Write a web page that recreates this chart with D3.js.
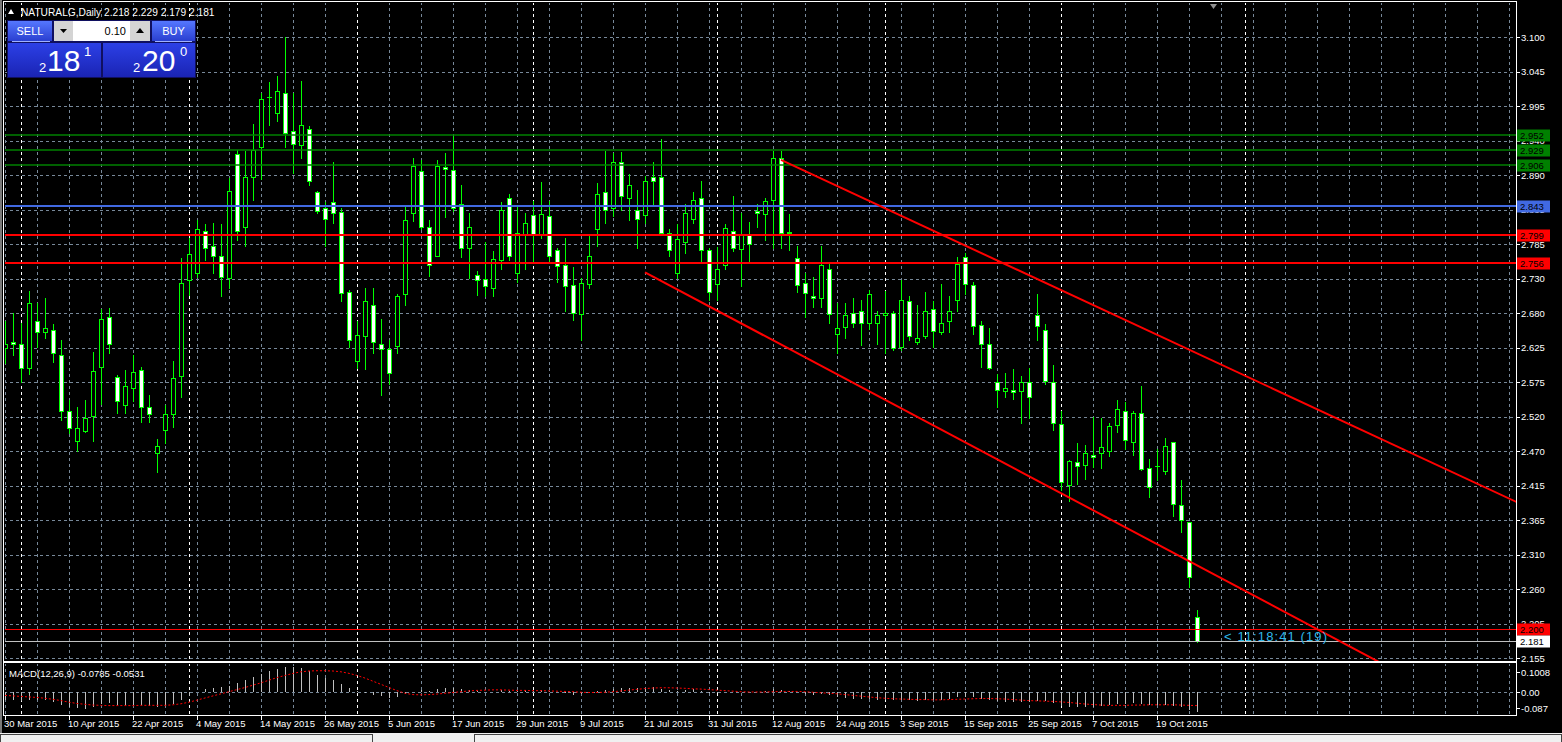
<!DOCTYPE html>
<html><head><meta charset="utf-8">
<script src="https://cdn.jsdelivr.net/npm/d3@7"></script>
<style>
html,body{margin:0;padding:0;background:#000;overflow:hidden;}
svg{display:block;}
text{font-family:"Liberation Sans",Arial,sans-serif;}
</style></head><body>
<svg id="c" width="1562" height="742"></svg>
<script>
// ---------------- DATA ----------------
const symbol = "NATURALG,Daily";
const dates = ["30 Mar 2015","31 Mar 2015","1 Apr 2015","2 Apr 2015","6 Apr 2015","7 Apr 2015","8 Apr 2015","9 Apr 2015","10 Apr 2015","13 Apr 2015",
"14 Apr 2015","15 Apr 2015","16 Apr 2015","17 Apr 2015","20 Apr 2015","21 Apr 2015","22 Apr 2015","23 Apr 2015","24 Apr 2015","27 Apr 2015",
"28 Apr 2015","29 Apr 2015","30 Apr 2015","1 May 2015","4 May 2015","5 May 2015","6 May 2015","7 May 2015","8 May 2015","11 May 2015",
"12 May 2015","13 May 2015","14 May 2015","15 May 2015","18 May 2015","19 May 2015","20 May 2015","21 May 2015","22 May 2015","25 May 2015",
"26 May 2015","27 May 2015","28 May 2015","29 May 2015","1 Jun 2015","2 Jun 2015","3 Jun 2015","4 Jun 2015","5 Jun 2015","8 Jun 2015",
"9 Jun 2015","10 Jun 2015","11 Jun 2015","12 Jun 2015","15 Jun 2015","16 Jun 2015","17 Jun 2015","18 Jun 2015","19 Jun 2015","22 Jun 2015",
"23 Jun 2015","24 Jun 2015","25 Jun 2015","26 Jun 2015","29 Jun 2015","30 Jun 2015","1 Jul 2015","2 Jul 2015","3 Jul 2015","6 Jul 2015",
"7 Jul 2015","8 Jul 2015","9 Jul 2015","10 Jul 2015","13 Jul 2015","14 Jul 2015","15 Jul 2015","16 Jul 2015","17 Jul 2015","20 Jul 2015",
"21 Jul 2015","22 Jul 2015","23 Jul 2015","24 Jul 2015","27 Jul 2015","28 Jul 2015","29 Jul 2015","30 Jul 2015","31 Jul 2015","3 Aug 2015",
"4 Aug 2015","5 Aug 2015","6 Aug 2015","7 Aug 2015","10 Aug 2015","11 Aug 2015","12 Aug 2015","13 Aug 2015","14 Aug 2015","17 Aug 2015",
"18 Aug 2015","19 Aug 2015","20 Aug 2015","21 Aug 2015","24 Aug 2015","25 Aug 2015","26 Aug 2015","27 Aug 2015","28 Aug 2015","31 Aug 2015",
"1 Sep 2015","2 Sep 2015","3 Sep 2015","4 Sep 2015","7 Sep 2015","8 Sep 2015","9 Sep 2015","10 Sep 2015","11 Sep 2015","14 Sep 2015",
"15 Sep 2015","16 Sep 2015","17 Sep 2015","18 Sep 2015","21 Sep 2015","22 Sep 2015","23 Sep 2015","24 Sep 2015","25 Sep 2015","28 Sep 2015",
"29 Sep 2015","30 Sep 2015","1 Oct 2015","2 Oct 2015","5 Oct 2015","6 Oct 2015","7 Oct 2015","8 Oct 2015","9 Oct 2015","12 Oct 2015",
"13 Oct 2015","14 Oct 2015","15 Oct 2015","16 Oct 2015","19 Oct 2015","20 Oct 2015","21 Oct 2015","22 Oct 2015","23 Oct 2015","26 Oct 2015"];

const open = [2.627,2.636,2.633,2.596,2.668,2.651,2.654,2.616,2.531,2.485,
2.501,2.523,2.599,2.674,2.583,2.541,2.567,2.593,2.537,2.467,
2.502,2.527,2.584,2.730,2.741,2.805,2.782,2.768,2.734,2.922,
2.811,2.887,2.933,3.010,2.985,3.015,2.957,2.936,2.960,2.864,
2.841,2.849,2.834,2.712,2.607,2.645,2.692,2.634,2.625,2.630,
2.709,2.832,2.896,2.812,2.768,2.902,2.898,2.847,2.779,2.738,
2.732,2.718,2.761,2.855,2.742,2.800,2.829,2.800,2.828,2.776,
2.753,2.723,2.679,2.724,2.808,2.864,2.840,2.910,2.855,2.837,
2.829,2.887,2.888,2.802,2.742,2.788,2.823,2.855,2.776,2.724,
2.753,2.805,2.778,2.800,2.835,2.831,2.852,2.916,2.803,2.764,
2.726,2.706,2.703,2.747,2.648,2.659,2.680,2.683,2.666,2.666,
2.677,2.680,2.628,2.698,2.636,2.645,2.686,2.651,2.668,2.700,
2.765,2.723,2.662,2.634,2.575,2.561,2.563,2.561,2.576,2.677,
2.654,2.575,2.511,2.418,2.453,2.449,2.464,2.467,2.470,2.510,
2.532,2.484,2.529,2.444,2.447,2.440,2.484,2.388,2.362,2.218];
const high = [2.668,2.680,2.666,2.714,2.695,2.704,2.663,2.640,2.548,2.537,
2.548,2.621,2.686,2.688,2.586,2.594,2.617,2.598,2.555,2.488,
2.540,2.608,2.764,2.794,2.822,2.816,2.818,2.816,2.886,2.929,
2.927,2.968,3.015,3.032,3.042,3.100,3.015,3.034,2.965,2.866,
2.850,2.910,2.840,2.716,2.668,2.718,2.718,2.671,2.640,2.709,
2.843,2.916,2.914,2.822,2.913,2.924,2.950,2.875,2.832,2.745,
2.788,2.775,2.849,2.861,2.843,2.832,2.851,2.880,2.851,2.779,
2.794,2.751,2.733,2.797,2.878,2.927,2.924,2.926,2.892,2.867,
2.889,2.910,2.946,2.809,2.816,2.846,2.864,2.881,2.779,2.781,
2.816,2.859,2.832,2.819,2.846,2.855,2.927,2.927,2.831,2.782,
2.741,2.735,2.782,2.756,2.695,2.695,2.704,2.701,2.715,2.683,
2.714,2.683,2.730,2.707,2.692,2.713,2.698,2.724,2.707,2.765,
2.772,2.727,2.668,2.657,2.587,2.589,2.595,2.584,2.596,2.710,
2.663,2.602,2.531,2.456,2.483,2.479,2.522,2.520,2.513,2.548,
2.545,2.531,2.569,2.458,2.473,2.490,2.484,2.426,2.362,2.229];
const low = [2.604,2.617,2.576,2.587,2.629,2.642,2.606,2.517,2.498,2.470,
2.500,2.486,2.542,2.619,2.529,2.529,2.547,2.514,2.514,2.438,
2.482,2.507,2.552,2.708,2.736,2.761,2.741,2.706,2.719,2.791,
2.782,2.852,2.884,2.966,2.973,2.933,2.893,2.916,2.875,2.833,
2.782,2.817,2.698,2.628,2.597,2.595,2.619,2.555,2.573,2.619,
2.692,2.820,2.809,2.737,2.768,2.826,2.835,2.766,2.734,2.708,
2.707,2.706,2.747,2.761,2.728,2.747,2.759,2.794,2.759,2.727,
2.684,2.670,2.639,2.718,2.782,2.817,2.828,2.837,2.822,2.779,
2.817,2.844,2.800,2.768,2.734,2.772,2.817,2.759,2.701,2.701,
2.747,2.775,2.721,2.759,2.811,2.791,2.779,2.779,2.776,2.712,
2.674,2.689,2.689,2.665,2.619,2.642,2.659,2.632,2.656,2.633,
2.619,2.624,2.624,2.639,2.634,2.642,2.628,2.648,2.651,2.683,
2.710,2.648,2.598,2.595,2.537,2.553,2.549,2.513,2.520,2.639,
2.572,2.502,2.411,2.394,2.420,2.428,2.446,2.444,2.463,2.500,
2.473,2.464,2.441,2.400,2.426,2.435,2.371,2.347,2.263,2.179];
const close = [2.634,2.633,2.596,2.695,2.651,2.657,2.619,2.532,2.505,2.505,
2.520,2.592,2.672,2.634,2.546,2.570,2.590,2.537,2.526,2.478,
2.526,2.581,2.726,2.770,2.808,2.779,2.768,2.735,2.866,2.805,
2.887,2.928,3.006,3.010,3.019,2.954,2.937,2.966,2.881,2.835,
2.823,2.832,2.711,2.639,2.647,2.698,2.636,2.625,2.589,2.706,
2.822,2.904,2.811,2.753,2.904,2.899,2.841,2.779,2.811,2.730,
2.721,2.762,2.838,2.767,2.802,2.817,2.800,2.831,2.768,2.752,
2.721,2.680,2.726,2.768,2.861,2.838,2.911,2.858,2.875,2.823,
2.881,2.882,2.803,2.776,2.793,2.832,2.852,2.776,2.712,2.747,
2.810,2.779,2.799,2.785,2.832,2.851,2.916,2.802,2.804,2.723,
2.711,2.703,2.753,2.679,2.657,2.677,2.666,2.665,2.709,2.677,
2.680,2.627,2.700,2.645,2.642,2.683,2.653,2.666,2.683,2.755,
2.724,2.660,2.633,2.596,2.564,2.567,2.560,2.575,2.552,2.660,
2.577,2.513,2.423,2.455,2.447,2.467,2.461,2.476,2.508,2.534,
2.487,2.528,2.443,2.415,2.447,2.478,2.389,2.365,2.278,2.181];

const macdMain = [-0.030,-0.032,-0.034,-0.030,-0.030,-0.033,-0.040,-0.052,-0.060,-0.064,
-0.065,-0.058,-0.048,-0.045,-0.050,-0.052,-0.050,-0.052,-0.053,-0.060,
-0.055,-0.048,-0.030,-0.015,-0.002,0.010,0.015,0.018,0.022,0.035,
0.045,0.055,0.068,0.078,0.088,0.094,0.096,0.092,0.080,0.065,
0.052,0.045,0.030,0.013,0.002,-0.006,-0.012,-0.018,-0.025,-0.020,
-0.010,0.000,0.005,0.003,0.010,0.015,0.016,0.010,0.008,0.002,
-0.002,0.000,0.006,0.004,0.004,0.005,0.004,0.005,0.002,-0.002,
-0.006,-0.012,-0.010,-0.006,0.002,0.006,0.012,0.013,0.015,0.013,
0.016,0.017,0.012,0.006,0.004,0.006,0.009,0.004,-0.004,-0.006,
-0.002,-0.002,-0.002,-0.003,0.000,0.002,0.010,0.006,0.004,-0.003,
-0.008,-0.011,-0.009,-0.013,-0.020,-0.023,-0.026,-0.029,-0.028,-0.030,
-0.030,-0.033,-0.030,-0.032,-0.034,-0.031,-0.031,-0.030,-0.028,-0.022,
-0.020,-0.022,-0.026,-0.030,-0.036,-0.038,-0.040,-0.040,-0.041,-0.034,
-0.037,-0.043,-0.053,-0.058,-0.060,-0.060,-0.058,-0.056,-0.052,-0.046,
-0.046,-0.044,-0.046,-0.050,-0.052,-0.050,-0.055,-0.060,-0.068,-0.0785];
const macdSignal = [-0.014,-0.016,-0.018,-0.020,-0.022,-0.025,-0.029,-0.034,-0.040,-0.045,
-0.048,-0.051,-0.052,-0.053,-0.053,-0.053,-0.053,-0.052,-0.052,-0.052,
-0.052,-0.050,-0.046,-0.040,-0.032,-0.024,-0.016,-0.008,0.000,0.008,
0.016,0.025,0.034,0.044,0.054,0.062,0.070,0.076,0.079,0.080,
0.080,0.079,0.076,0.070,0.062,0.052,0.040,0.028,0.016,0.004,
-0.006,-0.011,-0.012,-0.011,-0.009,-0.006,-0.003,0.000,0.003,0.005,
0.006,0.007,0.007,0.006,0.005,0.005,0.004,0.004,0.003,0.002,
0.001,0.000,-0.002,-0.003,-0.003,-0.002,0.000,0.003,0.006,0.009,
0.012,0.014,0.015,0.015,0.014,0.013,0.011,0.010,0.008,0.006,
0.004,0.002,0.000,-0.001,-0.001,-0.001,0.000,0.001,0.001,0.001,
0.000,-0.002,-0.004,-0.006,-0.008,-0.011,-0.014,-0.017,-0.020,-0.023,
-0.025,-0.027,-0.028,-0.029,-0.030,-0.030,-0.031,-0.031,-0.030,-0.029,
-0.028,-0.027,-0.026,-0.026,-0.027,-0.028,-0.030,-0.032,-0.034,-0.035,
-0.036,-0.037,-0.039,-0.041,-0.044,-0.047,-0.049,-0.051,-0.052,-0.052,
-0.052,-0.051,-0.051,-0.050,-0.050,-0.050,-0.050,-0.051,-0.052,-0.0531];

const priceTicks = [3.1000,3.0475,2.9950,2.9425,2.8900,2.8375,2.7850,2.7325,2.6800,2.6275,2.5750,2.5225,2.4700,2.4175,2.3650,2.3125,2.2600,2.2075,2.1550];
const priceTickLabels = ["3.100","3.045","2.995","2.940","2.890","2.835","2.785","2.730","2.680","2.625","2.575","2.520","2.470","2.415","2.365","2.310","2.260","2.205","2.155"];
const dateTickLabels = ["30 Mar 2015","10 Apr 2015","22 Apr 2015","4 May 2015","14 May 2015","26 May 2015","5 Jun 2015","17 Jun 2015","29 Jun 2015","9 Jul 2015","21 Jul 2015","31 Jul 2015","12 Aug 2015","24 Aug 2015","3 Sep 2015","15 Sep 2015","25 Sep 2015","7 Oct 2015","19 Oct 2015"];
const macdTicks = [0.1008, 0.00, -0.087];
const macdTickLabels = ["0.1008","0.00","-0.087"];
const macdTitle = "MACD(12,26,9) -0.0785 -0.0531";
const supportLevels = [2.952, 2.929, 2.906];
const pivotLevel = [2.843];
const resistLevels = [2.799, 2.756];
const alertLevel = [2.200];
const bidPrice = 2.181;
const trendUpper = [[97, 2.9135],[149, 2.619]];
const trendLower = [[80, 2.7424],[149, 2.2963]];
const nextSeparatorIndex = 155; // 2 Nov 2015 (future bar)
const countdown = "< 11:18:41 (19)";
const sellPrice = ["2","18","1"], buyPrice = ["2","20","0"], lotSize = "0.10";

// ---------------- LAYOUT ----------------
const svg = d3.select("#c");
const P = {l:4, r:1516, t:2, b:661};
const M = {t:663, b:715};
const x = d3.scaleLinear().domain([0,149]).range([5,1197]);
const y = d3.scaleLinear().domain([2.155,3.100]).range([658.2,37.4]);
const ym = d3.scaleLinear().domain([-0.087,0.1008]).range([714.5,665.3]);
const crisp = v => Math.round(v)+0.5;
const gridCol = "#778899";

svg.append("rect").attr("width",1562).attr("height",742).attr("fill","#000");

const defs = svg.append("defs");
defs.append("clipPath").attr("id","clipMain").append("rect").attr("x",P.l+1).attr("y",P.t+1).attr("width",P.r-P.l-1).attr("height",P.b-P.t-1);
defs.append("clipPath").attr("id","clipMacd").append("rect").attr("x",P.l+1).attr("y",M.t+1).attr("width",P.r-P.l-1).attr("height",M.b-M.t-1);
const g1 = defs.append("linearGradient").attr("id","btn").attr("x1",0).attr("y1",0).attr("x2",0).attr("y2",1);
g1.append("stop").attr("offset",0).attr("stop-color","#5577ff");
g1.append("stop").attr("offset",1).attr("stop-color","#2a3fd0");
const g2 = defs.append("linearGradient").attr("id","pbox").attr("x1",0).attr("y1",0).attr("x2",0).attr("y2",1);
g2.append("stop").attr("offset",0).attr("stop-color","#2c40e6");
g2.append("stop").attr("offset",1).attr("stop-color","#1a24b4");

const main = svg.append("g").attr("clip-path","url(#clipMain)");
const macdG = svg.append("g").attr("clip-path","url(#clipMacd)");

// vertical grid (every 4 bars, incl. future)
const maxIdx = Math.floor((P.r - 5)/8);
const vgrid = d3.range(0, maxIdx+1, 4);
[[main,P.t,P.b],[macdG,M.t,M.b]].forEach(([g,t,b])=>{
  g.selectAll(null).data(vgrid).join("line")
    .attr("x1",d=>crisp(x(d))).attr("x2",d=>crisp(x(d))).attr("y1",t).attr("y2",b)
    .attr("stroke",gridCol).attr("stroke-dasharray","3,3");
});
// horizontal grid
main.selectAll(null).data(priceTicks).join("line")
  .attr("x1",P.l).attr("x2",P.r).attr("y1",d=>crisp(y(d))).attr("y2",d=>crisp(y(d)))
  .attr("stroke",gridCol).attr("stroke-dasharray","3,3");
macdG.append("line").attr("x1",P.l).attr("x2",P.r).attr("y1",crisp(ym(0))).attr("y2",crisp(ym(0)))
  .attr("stroke",gridCol).attr("stroke-dasharray","3,3");

// month separators
const sepIdx = dates.map((d,i)=>i).filter(i=>i>0 && dates[i].split(" ")[1]!==dates[i-1].split(" ")[1]);
sepIdx.push(nextSeparatorIndex);
[[main,P.t,P.b],[macdG,M.t,M.b]].forEach(([g,t,b])=>{
  g.selectAll(null).data(sepIdx).join("line")
    .attr("x1",d=>crisp(x(d))).attr("x2",d=>crisp(x(d))).attr("y1",t).attr("y2",b)
    .attr("stroke","#fff").attr("stroke-dasharray","3,3");
});

// candles
const bars = d3.range(dates.length).map(i=>({i,o:open[i],h:high[i],l:low[i],c:close[i]}));
const cg = main.append("g");
cg.selectAll("line.w").data(bars).join("line").attr("class","w")
  .attr("x1",d=>crisp(x(d.i))).attr("x2",d=>crisp(x(d.i)))
  .attr("y1",d=>Math.round(y(d.h))).attr("y2",d=>Math.round(y(d.l))+1)
  .attr("stroke","#00ff00").attr("stroke-width",1);
cg.selectAll("rect.b").data(bars.filter(d=>d.o!==d.c)).join("rect").attr("class","b")
  .attr("x",d=>Math.round(x(d.i))-2+0.5)
  .attr("y",d=>Math.round(y(Math.max(d.o,d.c)))+0.5)
  .attr("width",4)
  .attr("height",d=>Math.max(1,Math.round(y(Math.min(d.o,d.c)))-Math.round(y(Math.max(d.o,d.c)))))
  .attr("fill",d=>d.c<d.o?"#ffffff":"#000000")
  .attr("stroke","#00ff00").attr("stroke-width",1);
cg.selectAll("line.d").data(bars.filter(d=>d.o===d.c)).join("line").attr("class","d")
  .attr("x1",d=>Math.round(x(d.i))-2).attr("x2",d=>Math.round(x(d.i))+3)
  .attr("y1",d=>crisp(y(d.c))).attr("y2",d=>crisp(y(d.c)))
  .attr("stroke","#00ff00");

// horizontal levels
const levels = [];
supportLevels.forEach(v=>levels.push({v,col:"#008000",w:1.5,lab:"#008000"}));
pivotLevel.forEach(v=>levels.push({v,col:"#4169e1",w:2,lab:"#4169e1"}));
resistLevels.forEach(v=>levels.push({v,col:"#ff0000",w:2,lab:"#ff0000"}));
alertLevel.forEach(v=>levels.push({v,col:"#ff0000",w:1,lab:"#ff0000"}));
main.selectAll("line.lv").data(levels).join("line").attr("class","lv")
  .attr("x1",P.l).attr("x2",P.r)
  .attr("y1",d=>d.w===1?crisp(y(d.v)):Math.round(y(d.v))).attr("y2",d=>d.w===1?crisp(y(d.v)):Math.round(y(d.v)))
  .attr("stroke",d=>d.col).attr("stroke-width",d=>d.w);
// bid line
main.append("line").attr("x1",P.l).attr("x2",P.r).attr("y1",crisp(y(bidPrice))).attr("y2",crisp(y(bidPrice)))
  .attr("stroke","#c0c0c0");

// trend lines (rays to the right)
[trendUpper, trendLower].forEach(t=>{
  const [a,b] = t;
  const slope = (b[1]-a[1])/(b[0]-a[0]);
  const iEnd = (P.r - 5)/8 + 1;
  main.append("line")
    .attr("x1",x(a[0])).attr("y1",y(a[1]))
    .attr("x2",x(iEnd)).attr("y2",y(a[1]+slope*(iEnd-a[0])))
    .attr("stroke","#ff0000").attr("stroke-width",2);
});

// countdown
main.append("text").attr("x",1224).attr("y",641).text(countdown)
  .attr("fill","#2fb8ea").attr("font-size",13).attr("letter-spacing",1.1);

// chart shift marker
svg.append("path").attr("d","M1210,4 L1217,4 L1213.5,9 Z").attr("fill","#909090");

// MACD histogram & signal
macdG.selectAll("line.h").data(macdMain.map((v,i)=>({i,v}))).join("line").attr("class","h")
  .attr("x1",d=>crisp(x(d.i))).attr("x2",d=>crisp(x(d.i)))
  .attr("y1",Math.round(ym(0))).attr("y2",d=>Math.round(ym(d.v)))
  .attr("stroke","#c0c0c0");
macdG.append("path").datum(macdSignal)
  .attr("d",d3.line().x((d,i)=>x(i)).y(d=>ym(d)))
  .attr("fill","none").attr("stroke","#ff0000").attr("stroke-dasharray","2,2");

// frames
svg.append("rect").attr("x",P.l-0.5).attr("y",P.t-0.5).attr("width",P.r-P.l+1).attr("height",P.b-P.t+1)
  .attr("fill","none").attr("stroke","#fff");
svg.append("rect").attr("x",P.l-0.5).attr("y",M.t-0.5).attr("width",P.r-P.l+1).attr("height",M.b-M.t+1)
  .attr("fill","none").attr("stroke","#fff");
svg.append("rect").attr("x",0).attr("y",0).attr("width",2).attr("height",733).attr("fill","#7a7a7a");

// price axis
const ax = svg.append("g").attr("font-size",9.5).attr("fill","#fff");
ax.selectAll(null).data(priceTicks).join("line")
  .attr("x1",P.r).attr("x2",P.r+4).attr("y1",d=>crisp(y(d))).attr("y2",d=>crisp(y(d))).attr("stroke","#fff");
ax.selectAll(null).data(priceTicks).join("text")
  .attr("x",P.r+5).attr("y",d=>y(d)+3.5).text((d,i)=>priceTickLabels[i]);

// level labels
const labs = levels.map(d=>({v:d.v,bg:d.lab,fg:"#000"})).concat([{v:bidPrice,bg:"#ffffff",fg:"#000"}]);
const lg = svg.append("g").attr("font-size",9.5);
lg.selectAll("rect").data(labs).join("rect")
  .attr("x",P.r+1).attr("y",d=>Math.round(y(d.v))-5.5).attr("width",33).attr("height",12).attr("fill",d=>d.bg);
lg.selectAll("text").data(labs).join("text")
  .attr("x",P.r+4).attr("y",d=>Math.round(y(d.v))+4).attr("fill",d=>d.fg).text(d=>d3.format(".3f")(d.v));

// MACD axis
const mx = svg.append("g").attr("font-size",9.5).attr("fill","#fff");
mx.selectAll(null).data(macdTicks).join("text")
  .attr("x",P.r+5).attr("y",(d,i)=>[676,696,712][i]).text((d,i)=>macdTickLabels[i]);
mx.selectAll(null).data(macdTicks).join("line")
  .attr("x1",P.r).attr("x2",P.r+4).attr("y1",(d,i)=>[672.5,692.5,708.5][i]).attr("y2",(d,i)=>[672.5,692.5,708.5][i]).attr("stroke","#fff");
svg.append("text").attr("x",9).attr("y",677).attr("font-size",9.5).attr("fill","#fff").text(macdTitle);

// date axis
const dg = svg.append("g").attr("font-size",9.5).attr("fill","#fff");
const dIdx = dateTickLabels.map(l=>dates.indexOf(l));
dg.selectAll(null).data(dIdx).join("text").attr("x",d=>x(d)-1).attr("y",727).text((d,i)=>dateTickLabels[i]);
dg.selectAll(null).data(dIdx).join("line").attr("x1",d=>crisp(x(d))).attr("x2",d=>crisp(x(d)))
  .attr("y1",716).attr("y2",720).attr("stroke","#fff");

// bottom tab bar
svg.append("rect").attr("x",0).attr("y",733).attr("width",1562).attr("height",9).attr("fill","#f0f0f0");
svg.append("rect").attr("x",0.5).attr("y",734.5).attr("width",372).attr("height",8).attr("fill","none").attr("stroke","#444");
svg.append("rect").attr("x",474.5).attr("y",734.5).attr("width",1087).attr("height",8).attr("fill","none").attr("stroke","#444");

// title
svg.append("path").attr("d","M8,14 L14,14 L11,9 Z").attr("fill","#fff");
svg.append("text").attr("x",21).attr("y",15.5).attr("font-size",10.2).attr("fill","#fff")
  .text(symbol+"  "+[open[149],high[149],low[149],close[149]].map(d3.format(".3f")).join(" "));

// one-click trading panel
const pn = svg.append("g");
pn.append("rect").attr("x",7).attr("y",20).attr("width",189).attr("height",58).attr("fill","#101060");
pn.append("rect").attr("x",8).attr("y",21).attr("width",44).attr("height",20).attr("fill","url(#btn)");
pn.append("line").attr("x1",12).attr("x2",50).attr("y1",41.5).attr("y2",41.5).attr("stroke","#a0b0ff");
pn.append("text").attr("x",30).attr("y",35).attr("text-anchor","middle").attr("font-size",11).attr("fill","#fff").text("SELL");
pn.append("rect").attr("x",54).attr("y",21).attr("width",19).attr("height",20).attr("fill","#d4d4d4");
pn.append("path").attr("d","M60,29 L67,29 L63.5,33 Z").attr("fill","#000");
pn.append("rect").attr("x",73).attr("y",21).attr("width",57).attr("height",20).attr("fill","#fff");
pn.append("text").attr("x",126).attr("y",35).attr("text-anchor","end").attr("font-size",11).attr("fill","#000").text(lotSize);
pn.append("rect").attr("x",130).attr("y",21).attr("width",20).attr("height",20).attr("fill","#d4d4d4");
pn.append("path").attr("d","M136,33 L144,33 L140,28 Z").attr("fill","#000");
pn.append("rect").attr("x",152).attr("y",21).attr("width",43).attr("height",20).attr("fill","url(#btn)");
pn.append("line").attr("x1",155).attr("x2",192).attr("y1",41.5).attr("y2",41.5).attr("stroke","#a0b0ff");
pn.append("text").attr("x",173.5).attr("y",35).attr("text-anchor","middle").attr("font-size",11).attr("fill","#fff").text("BUY");
pn.append("rect").attr("x",8).attr("y",43).attr("width",93).attr("height",34).attr("fill","url(#pbox)");
pn.append("rect").attr("x",103).attr("y",43).attr("width",92).attr("height",34).attr("fill","url(#pbox)");
[[sellPrice,39,47,84],[buyPrice,133,142,180]].forEach(([p,x1,x2,x3])=>{
  pn.append("text").attr("x",x1).attr("y",72).attr("font-size",13).attr("fill","#fff").text(p[0]);
  pn.append("text").attr("x",x2).attr("y",71).attr("font-size",30).attr("fill","#fff").text(p[1]);
  pn.append("text").attr("x",x3).attr("y",56).attr("font-size",13).attr("fill","#fff").text(p[2]);
});
</script>
</body></html>
